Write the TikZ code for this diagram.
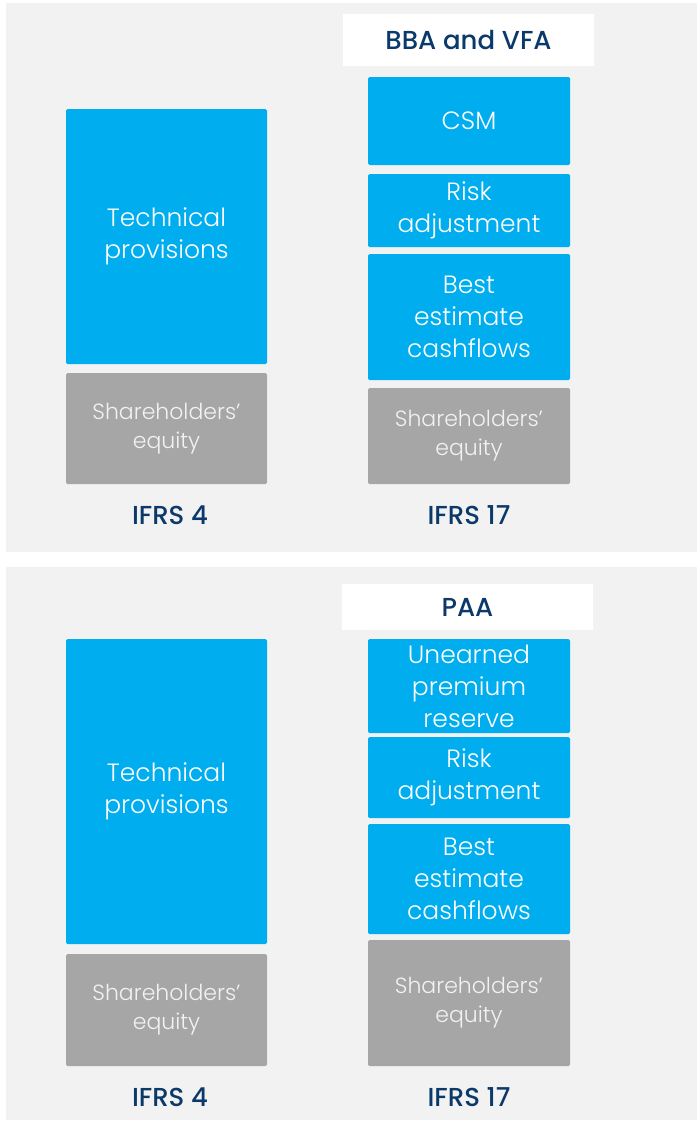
\documentclass[tikz,border=0pt]{standalone}
\usepackage{fontspec}
\setmainfont{Poppins Light}
\newfontfamily\medfont{Poppins Medium}
\usetikzlibrary{positioning}

\definecolor{liab}{RGB}{0,174,239}
\definecolor{equit}{RGB}{166,166,166}
\definecolor{panel}{RGB}{242,242,242}
\definecolor{navy}{RGB}{11,57,105}

\begin{document}
\begin{tikzpicture}[x=1pt,y=-1pt]
\tikzstyle{blk}=[fill=liab,text=white,rounded corners=1.5pt,inner sep=0pt,align=center,minimum width=202pt,font=\fontsize{25}{32}\selectfont]
\tikzstyle{eqbox}=[blk,fill=equit,text=panel,font=\fontsize{22}{29}\selectfont]
\tikzstyle{hdr}=[fill=white,text=navy,inner sep=0pt,minimum width=251pt,font=\medfont\fontsize{26}{30}\selectfont]
\tikzstyle{lbl}=[text=navy,inner sep=0pt,font=\medfont\fontsize{26}{30}\selectfont]

%background and panels
\fill[white] (0,0) rectangle (697,1122);
\fill[panel] (6,3) rectangle (697,552);
\fill[panel] (6,567) rectangle (697,1120);

%top panel, IFRS 4
\node[blk,minimum width=201pt,minimum height=255pt] (techA) at (166.5,236.5) {Technical\\provisions};
\node[eqbox,minimum width=201pt,minimum height=111pt] (eqA4) at (166.5,428.5) {Shareholders'\\equity};
\node[lbl] (lblA4) at (170,515) {IFRS 4};

%top panel, IFRS 17
\node[hdr,minimum height=52pt] (hdrA) at (468.5,40) {BBA and VFA};
\node[blk,minimum height=88pt] (csm) at (469,121) {CSM};
\node[blk,minimum height=73pt] (riskA) at (469,210.5) {Risk\\adjustment};
\node[blk,minimum height=126pt] (bestA) at (469,317) {Best\\estimate\\cashflows};
\node[eqbox,minimum height=96pt] (eqA) at (469,436) {Shareholders'\\equity};
\node[lbl] (lblA17) at (469,515) {IFRS 17};

%bottom panel, IFRS 4
\node[blk,minimum width=201pt,minimum height=305pt] (techB) at (166.5,791.5) {Technical\\provisions};
\node[eqbox,minimum width=201pt,minimum height=112pt] (eqB4) at (166.5,1010) {Shareholders'\\equity};
\node[lbl] (lblB4) at (170,1097) {IFRS 4};

%bottom panel, IFRS 17
\node[hdr,minimum height=46pt] (hdrB) at (467.5,607) {PAA};
\node[blk,minimum height=94pt] (upr) at (469,686) {Unearned\\premium\\reserve};
\node[blk,minimum height=81pt] (riskB) at (469,777.5) {Risk\\adjustment};
\node[blk,minimum height=110pt] (bestB) at (469,879) {Best\\estimate\\cashflows};
\node[eqbox,minimum height=126pt] (eqB) at (469,1003) {Shareholders'\\equity};
\node[lbl] (lblB17) at (469,1097) {IFRS 17};
\end{tikzpicture}
\end{document}
